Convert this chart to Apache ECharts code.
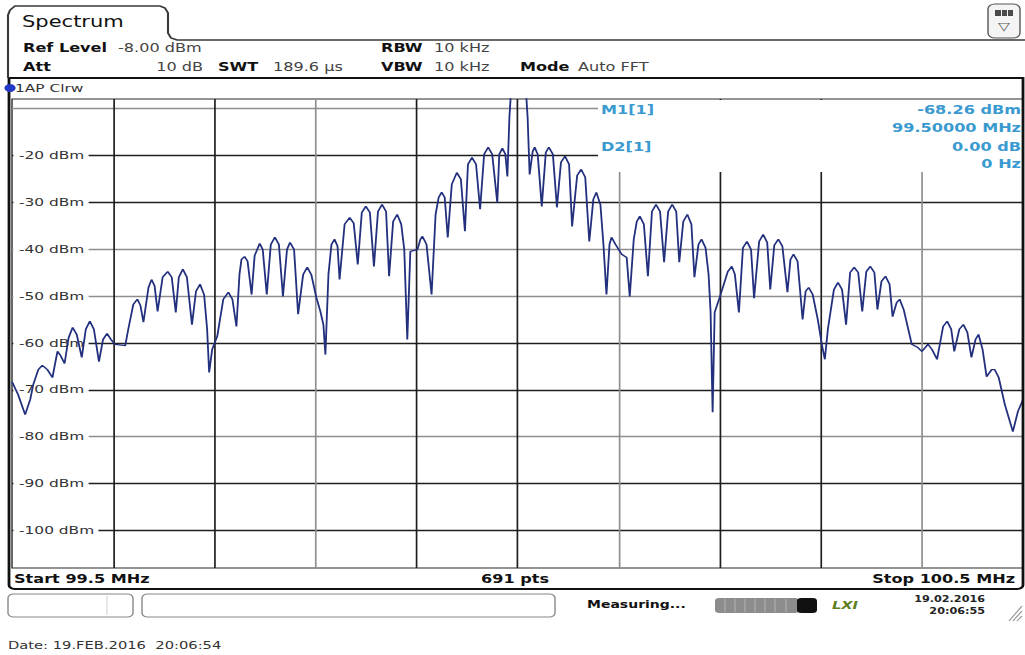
<!DOCTYPE html>
<html><head><meta charset="utf-8">
<script src="https://cdn.jsdelivr.net/npm/echarts@6/dist/echarts.min.js"></script>
<style>
html,body{margin:0;padding:0;background:#fff;overflow:hidden;width:1025px;height:655px;}
#wrap{width:1025px;height:655px;overflow:hidden;position:relative;background:#fff;}
#chart{width:732px;height:655px;transform:scaleX(1.400273);transform-origin:0 0;}
</style></head><body><div id="wrap"><div id="chart"></div></div>
<script>
// ---- data (frequency in MHz, level in dBm) ----
const freqMHz = [
99.500,99.506,99.513,99.518,99.521,99.526,99.530,99.535,99.540,99.543,
99.545,99.548,99.552,99.556,99.560,99.564,99.569,99.573,99.577,99.581,
99.586,99.590,99.594,99.598,99.602,99.612,99.615,99.620,99.624,99.627,
99.630,99.635,99.638,99.641,99.644,99.649,99.654,99.658,99.662,99.665,
99.669,99.673,99.678,99.682,99.686,99.690,99.693,99.695,99.698,99.703,
99.709,99.714,99.718,99.722,99.725,99.727,99.730,99.733,99.737,99.740,
99.745,99.748,99.752,99.756,99.760,99.764,99.768,99.772,99.775,99.779,
99.783,99.788,99.792,99.796,99.801,99.805,99.808,99.810,99.813,99.816,
99.819,99.822,99.824,99.829,99.834,99.838,99.842,99.846,99.850,99.854,
99.858,99.862,99.866,99.870,99.873,99.877,99.881,99.885,99.888,99.891,
99.894,99.901,99.904,99.906,99.910,99.915,99.919,99.922,99.925,99.928,
99.931,99.935,99.940,99.944,99.948,99.951,99.955,99.959,99.963,99.967,
99.971,99.975,99.980,99.982,99.985,99.988,99.990,99.992,99.994,100.008,
100.010,100.012,100.015,100.017,100.020,100.024,100.028,100.031,100.035,100.039,
100.043,100.047,100.051,100.054,100.059,100.063,100.067,100.071,100.075,100.078,
100.082,100.085,100.088,100.091,100.093,100.097,100.103,100.108,100.111,100.115,
100.118,100.121,100.125,100.129,100.133,100.137,100.141,100.145,100.149,100.153,
100.157,100.160,100.164,100.168,100.172,100.175,100.179,100.182,100.186,100.189,
100.191,100.193,100.195,100.200,100.208,100.212,100.215,100.219,100.223,100.227,
100.231,100.234,100.239,100.243,100.247,100.250,100.254,100.258,100.262,100.267,
100.270,100.273,100.277,100.282,100.285,100.288,100.292,100.297,100.301,100.304,
100.307,100.313,100.317,100.321,100.325,100.329,100.333,100.337,100.341,100.345,
100.349,100.353,100.356,100.360,100.364,100.368,100.371,100.375,100.378,100.382,
100.390,100.396,100.400,100.406,100.410,100.415,100.421,100.425,100.429,100.432,
100.437,100.441,100.445,100.449,100.453,100.456,100.460,100.464,100.469,100.472,
100.476,100.482,100.490,100.495,100.500];
const levelDbm = [
-68.3,-71.0,-75.3,-72.1,-68.9,-65.7,-64.8,-65.7,-67.4,-64.0,
-61.8,-62.7,-64.4,-58.9,-56.7,-58.2,-63.1,-57.1,-55.4,-57.1,
-64.0,-59.3,-58.0,-59.3,-60.3,-60.6,-57.1,-51.8,-50.7,-52.0,
-55.6,-48.2,-46.5,-47.8,-53.3,-46.0,-44.8,-46.0,-53.5,-46.0,
-44.3,-46.0,-56.1,-49.0,-47.5,-49.7,-57.1,-66.3,-61.4,-58.6,
-50.7,-49.2,-50.7,-56.5,-45.4,-42.2,-41.6,-42.6,-49.7,-41.4,
-38.8,-40.1,-49.7,-39.0,-37.5,-39.0,-50.1,-40.1,-38.6,-40.1,
-53.9,-45.4,-43.9,-45.4,-50.3,-53.3,-56.1,-62.5,-45.4,-39.0,
-37.9,-39.4,-46.5,-34.7,-33.3,-34.5,-43.3,-32.2,-30.9,-32.2,
-43.7,-32.0,-30.5,-32.0,-45.8,-34.1,-32.6,-34.7,-40.1,-59.3,
-40.5,-40.1,-37.9,-37.3,-39.0,-49.7,-32.6,-29.0,-27.9,-29.0,
-37.5,-26.2,-23.7,-25.1,-36.2,-21.9,-20.5,-21.9,-31.5,-19.8,
-18.3,-19.8,-30.1,-19.8,-18.5,-19.8,-24.5,-11.9,-5,-5,
-11.9,-24.1,-19.2,-18.3,-19.8,-30.9,-19.4,-18.3,-19.8,-31.1,
-21.5,-20.2,-21.9,-35.2,-24.3,-23.0,-24.7,-38.4,-29.4,-27.9,
-30.5,-39.0,-49.7,-39.0,-37.5,-39.0,-41.1,-41.8,-50.1,-37.9,
-34.1,-33.0,-34.7,-45.8,-32.0,-30.5,-32.0,-42.8,-32.0,-30.5,
-32.0,-42.8,-34.1,-32.6,-34.7,-46.0,-39.0,-37.9,-39.7,-45.4,
-53.5,-74.8,-53.5,-50.3,-44.8,-43.7,-45.4,-53.5,-39.7,-38.4,
-40.1,-50.5,-38.4,-36.9,-38.6,-48.6,-39.2,-37.9,-39.4,-49.2,
-42.2,-41.1,-42.6,-55.0,-49.0,-48.2,-49.7,-55.0,-60.3,-63.5,
-57.1,-48.6,-47.1,-48.6,-56.1,-45.0,-43.9,-45.0,-53.3,-44.8,
-43.7,-45.0,-52.9,-46.9,-45.8,-47.5,-54.4,-51.4,-50.7,-52.9,
-60.3,-61.0,-61.8,-60.3,-61.4,-63.5,-56.5,-55.4,-57.1,-61.8,
-57.1,-56.1,-57.8,-63.1,-59.3,-58.2,-61.4,-67.2,-65.7,-65.7,
-67.4,-73.1,-78.9,-74.6,-72.1];
const gridLevels = [-10,-20,-30,-40,-50,-60,-70,-80,-90,-100];
const labelLevels = [-20,-30,-40,-50,-60,-70,-80,-90,-100];
const gridFreqs = [99.6,99.7,99.8,99.9,100.0,100.1,100.2,100.3,100.4];
const lightLevels = [-10,-40,-50,-80];
const lightFreqs = [99.8,100.1,100.4];

// ---- layout ----
const SX = 1025 / 732;
const X = px => px / SX;
const FF = '"DejaVu Sans", Verdana, sans-serif';
const DARK = '#1e1e1e', LIGHT = '#8e8e8e', MK = '#3a9ad0';

function T(text, px, py, opt) {
  return {type:'text', x:X(px), y:py, z:6, silent:true,
    style:Object.assign({text:text, fill:'#222', fontFamily:FF, fontSize:11.5, fontWeight:'normal',
      align:'left', verticalAlign:'middle', textAlign:'left', textVerticalAlign:'middle'}, opt || {})};
}
const R = {align:'right', textAlign:'right'};
const C = {align:'center', textAlign:'center'};
function rect(px, py, w, h, style, r, z) {
  return {type:'rect', z: z === undefined ? 5 : z, silent:true,
    shape:{x:X(px), y:py, width:X(w), height:h, r:r || 0}, style:style};
}
function line(x1, y1, x2, y2, style) {
  return {type:'line', z:5, silent:true, shape:{x1:X(x1), y1:y1, x2:X(x2), y2:y2}, style:style};
}

const trace = freqMHz.map((f, i) => [f, levelDbm[i]]);

const markData = []
  .concat(gridLevels.map(v => ({yAxis:v, lineStyle:{type:'solid', width:1.3, color: lightLevels.includes(v) ? LIGHT : DARK}})))
  .concat(gridFreqs.map(f => ({xAxis:f, lineStyle:{type:'solid', width:1.2, color: lightFreqs.includes(f) ? LIGHT : DARK}})));

const graphics = [
  // tab outline + header rule
  {type:'polyline', z:5, silent:true, shape:{points:[[X(8),78],[X(8),15],[X(10),10],[X(15),6],[X(160),6],[X(165),8],[X(168),13],[X(168),33],[X(171),38],[X(177),40],[X(1025),40]]},
   style:{stroke:'#3a3a3a', lineWidth:1.5, fill:null}},
  T('Spectrum', 22, 22, {fontSize:15, fill:'#111'}),
  // top-right icon
  rect(988, 4, 32, 34, {fill:'#f4f4f4', stroke:'#555', lineWidth:1}, 5),
  rect(995, 10, 18, 6, {fill:'#4a4a4a'}, 0, 6),
  rect(1001, 10, 1, 6, {fill:'#f4f4f4'}, 0, 7),
  rect(1007, 10, 1, 6, {fill:'#f4f4f4'}, 0, 7),
  T('\u25BD', 1004, 26, Object.assign({fontSize:11, fill:'#555'}, C)),
  // header parameters
  T('Ref Level', 23, 48, {fontWeight:'bold', fill:'#111'}),
  T('-8.00 dBm', 118, 48, {fill:'#444'}),
  T('RBW', 381, 48, {fontWeight:'bold', fill:'#111'}),
  T('10 kHz', 434, 48, {fill:'#444'}),
  T('Att', 23, 67, {fontWeight:'bold', fill:'#111'}),
  T('10 dB', 203, 67, Object.assign({fill:'#444'}, R)),
  T('SWT', 218, 67, {fontWeight:'bold', fill:'#111'}),
  T('189.6 \u00b5s', 273, 67, {fill:'#444'}),
  T('VBW', 381, 67, {fontWeight:'bold', fill:'#111'}),
  T('10 kHz', 434, 67, {fill:'#444'}),
  T('Mode', 520, 67, {fontWeight:'bold', fill:'#111'}),
  T('Auto FFT', 578, 67, {fill:'#444'}),
  // measurement panel frame
  rect(9, 78, 1014, 511, {fill:null, stroke:'#111', lineWidth:2}, [0,0,4,4], 6),
  // trace legend
  {type:'circle', z:6, silent:true, shape:{cx:X(10), cy:88, r:4}, style:{fill:'#2438c4'}},
  T('1AP Clrw', 15, 88, {fontSize:11, fill:'#333'}),
  // marker info box
  rect(598, 100, 424, 72, {fill:'#fff'}, 0, 2),
  T('M1[1]', 601, 110, {fontWeight:'bold', fill:MK}),
  T('-68.26 dBm', 1021, 110, Object.assign({fontWeight:'bold', fill:MK}, R)),
  T('99.50000 MHz', 1021, 128, Object.assign({fontWeight:'bold', fill:MK}, R)),
  T('D2[1]', 601, 147, {fontWeight:'bold', fill:MK}),
  T('0.00 dB', 1021, 147, Object.assign({fontWeight:'bold', fill:MK}, R)),
  T('0 Hz', 1021, 164, Object.assign({fontWeight:'bold', fill:MK}, R)),
  // footer of the diagram
  T('Start 99.5 MHz', 14, 579, {fontWeight:'bold', fill:'#111', fontSize:11.5}),
  T('691 pts', 515, 579, Object.assign({fontWeight:'bold', fill:'#111', fontSize:11.5}, C)),
  T('Stop 100.5 MHz', 1015, 579, Object.assign({fontWeight:'bold', fill:'#111', fontSize:11.5}, R)),
  // status bar
  rect(8, 594, 125, 23, {fill:'#fff', stroke:'#888', lineWidth:1}, 4),
  line(107, 596, 107, 615, {stroke:'#ddd', lineWidth:1}),
  rect(142, 594, 413, 23, {fill:'#fff', stroke:'#888', lineWidth:1}, 4),
  T('Measuring...', 587, 605, {fontWeight:'bold', fontSize:10, fill:'#111'}),
  rect(715, 598, 84, 15, {fill:'#8c8c8c'}, 3),
  rect(797, 598, 20, 15, {fill:'#111'}, 3, 6),
  line(725, 599, 725, 612, {stroke:'#a8a8a8', lineWidth:1}),
  line(735, 599, 735, 612, {stroke:'#a8a8a8', lineWidth:1}),
  line(745, 599, 745, 612, {stroke:'#a8a8a8', lineWidth:1}),
  line(755, 599, 755, 612, {stroke:'#a8a8a8', lineWidth:1}),
  line(765, 599, 765, 612, {stroke:'#a8a8a8', lineWidth:1}),
  line(775, 599, 775, 612, {stroke:'#a8a8a8', lineWidth:1}),
  line(786, 599, 786, 612, {stroke:'#a8a8a8', lineWidth:1}),
  T('LXI', 845, 605, Object.assign({fontWeight:'bold', fontStyle:'italic', fontSize:10.5, fill:'#5f7f1f'}, C)),
  T('19.02.2016', 985, 599, Object.assign({fontWeight:'bold', fontSize:8, fill:'#222'}, R)),
  T('20:06:55', 985, 611, Object.assign({fontWeight:'bold', fontSize:8, fill:'#222'}, R)),
  line(1009, 621, 1022, 606, {stroke:'#999', lineWidth:1}),
  line(1013, 621, 1022, 611, {stroke:'#999', lineWidth:1}),
  line(1017, 621, 1022, 616, {stroke:'#999', lineWidth:1}),
  // capture date
  T('Date: 19.FEB.2016  20:06:54', 8, 645, {fontSize:10.5, fill:'#333'})
];

const chart = echarts.init(document.getElementById('chart'), null, {renderer:'svg', width:732, height:655});
chart.setOption({
  animation:false,
  backgroundColor:'#fff',
  grid:{left:X(12), right:X(2), top:99, bottom:87, show:true, borderColor:'#2a2a2a', borderWidth:1, backgroundColor:'#fff'},
  xAxis:{type:'value', min:99.5, max:100.5, axisLine:{show:false}, axisTick:{show:false}, axisLabel:{show:false}, splitLine:{show:false}},
  yAxis:{type:'value', min:-108, max:-8, z:1,
    axisLine:{show:false}, axisTick:{show:false}, splitLine:{show:false},
    axisLabel:{inside:true, margin:1, customValues:labelLevels, formatter:v => v + ' dBm',
      color:'#333', fontSize:11, fontFamily:FF, backgroundColor:'#fff', padding:[1,3,1,4]}},
  series:[{
    type:'line', name:'1AP Clrw', data:trace, showSymbol:false, symbol:'none', z:3, clip:true,
    lineStyle:{color:'#22307e', width:1.3},
    markLine:{silent:true, z:0, symbol:['none','none'], label:{show:false}, animation:false, data:markData}
  }],
  graphic:graphics
});
</script>
</body></html>
